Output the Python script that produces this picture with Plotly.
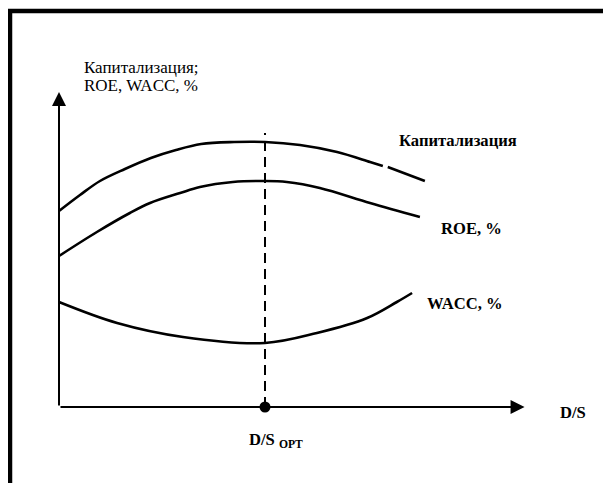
import plotly.graph_objects as go

# conceptual curves (D/S on x, value on y, arbitrary units)
cap_x = [0, 0.51, 0.995, 1.6, 2.23, 2.84, 3.45, 4.25, 5.0, 5.85, 6.75, 7.55, 7.86, None, 7.98, 8.88]
cap_y = [19.6, 21.2, 22.6, 23.8, 24.9, 25.7, 26.3, 26.5, 26.5, 26.2, 25.5, 24.5, 24.1, None, 24.0, 22.6]

roe_x = [0, 0.92, 1.72, 2.21, 2.94, 3.42, 4.22, 5.0, 5.53, 6.33, 7.55, 8.76]
roe_y = [15.1, 17.5, 19.4, 20.4, 21.4, 22.0, 22.5, 22.6, 22.5, 21.9, 20.4, 19.0]

wacc_x = [0, 1.41, 3.01, 5.0, 6.26, 7.48, 8.2, 8.57]
wacc_y = [10.5, 8.4, 7.0, 6.4, 7.4, 8.9, 10.5, 11.4]

ds_opt = 5.0
x_end = 11.3
y_end = 31.5
dash_top = 27.4

# page has an 8px body margin, so the figure covers the rest of the window
W, H = 603, 475
x0_px, y0_px = 51, 399
px_x, px_y = 41.2, 10.0

serif = "Liberation Serif, Times New Roman, serif"

fig = go.Figure()

for xs, ys in [(cap_x, cap_y), (roe_x, roe_y), (wacc_x, wacc_y)]:
    fig.add_trace(go.Scatter(x=xs, y=ys, mode="lines", line=dict(color="black", width=2.6, shape="spline", smoothing=1.0),
                             connectgaps=False, hoverinfo="skip", showlegend=False))

# dashed optimum line and dot
fig.add_trace(go.Scatter(x=[ds_opt, ds_opt], y=[0, dash_top], mode="lines",
                         line=dict(color="black", width=2, dash="10px,6px"), showlegend=False, hoverinfo="skip"))
fig.add_trace(go.Scatter(x=[ds_opt], y=[0], mode="markers", marker=dict(color="black", size=11),
                         showlegend=False, hoverinfo="skip"))

# axes with arrows
fig.add_annotation(x=x_end, y=0, ax=0, ay=0, xref="x", yref="y", axref="x", ayref="y", text="",
                   showarrow=True, arrowhead=2, arrowsize=1.4, arrowwidth=2, arrowcolor="black")
fig.add_annotation(x=0, y=y_end, ax=0, ay=0, xref="x", yref="y", axref="x", ayref="y", text="",
                   showarrow=True, arrowhead=2, arrowsize=1.4, arrowwidth=2, arrowcolor="black")

# labels
reg = dict(family=serif, size=17, color="black")
fig.add_annotation(x=0.56, y=34.0, text="Капитализация;", showarrow=False, xanchor="left", font=reg)
fig.add_annotation(x=0.56, y=32.2, text="ROE, WACC, %", showarrow=False, xanchor="left", font=reg)
bold = dict(family=serif, size=16.6, color="black", weight="bold")
fig.add_annotation(x=8.2, y=26.7, text="<b>Капитализация</b>", showarrow=False, xanchor="left", font=bold)
fig.add_annotation(x=9.22, y=17.9, text="<b>ROE, %</b>", showarrow=False, xanchor="left", font=bold)
fig.add_annotation(x=8.88, y=10.4, text="<b>WACC, %</b>", showarrow=False, xanchor="left", font=bold)
fig.add_annotation(x=12.12, y=-0.5, text="<b>D/S</b>", showarrow=False, xanchor="left", font=bold)
fig.add_annotation(x=4.57, y=-3.3, text="<b>D/S <sub>OPT</sub></b>", showarrow=False, xanchor="left", font=bold)

# frame (open on right and bottom)
fx = 2 / W
fy = 1 - 3 / H
fig.add_shape(type="path", xref="paper", yref="paper", path=f"M {fx},0 L {fx},{fy} L 1,{fy}",
              line=dict(color="black", width=4.5))

fig.update_xaxes(range=[-x0_px / px_x, (W - x0_px) / px_x], visible=False)
fig.update_yaxes(range=[-(H - y0_px) / px_y, y0_px / px_y], visible=False)
fig.update_layout(width=W, height=H, margin=dict(l=0, r=0, t=0, b=0),
                  plot_bgcolor="white", paper_bgcolor="white")

fig.write_html("out.html")
